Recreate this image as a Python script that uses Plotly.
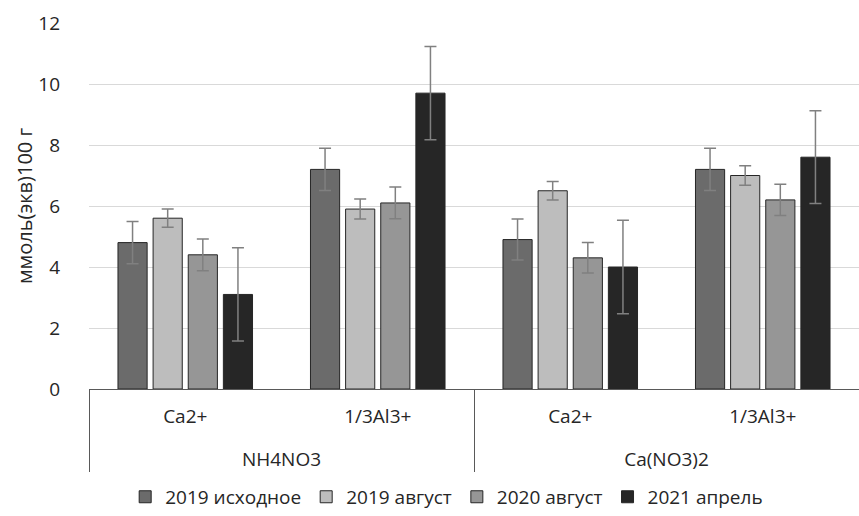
import plotly.graph_objects as go

groups = ["NH4NO3", "NH4NO3", "Ca(NO3)2", "Ca(NO3)2"]
ions = ["Ca2+", "1/3Al3+", "Ca2+", "1/3Al3+"]

series_names = ["2019 исходное", "2019 август", "2020 август", "2021 апрель"]
v2019_init = [4.8, 7.2, 4.9, 7.2]
v2019_aug = [5.6, 5.9, 6.5, 7.0]
v2020_aug = [4.4, 6.1, 4.3, 6.2]
v2021_apr = [3.1, 9.7, 4.0, 7.6]

e2019_init = [0.69, 0.69, 0.67, 0.69]
e2019_aug = [0.3, 0.33, 0.3, 0.32]
e2020_aug = [0.52, 0.52, 0.5, 0.51]
e2021_apr = [1.53, 1.53, 1.53, 1.52]

colors = ["#6b6b6b", "#bdbdbd", "#969696", "#262626"]

values = [v2019_init, v2019_aug, v2020_aug, v2021_apr]
errors = [e2019_init, e2019_aug, e2020_aug, e2021_apr]

FONT = "Open Sans"
TXT = "#262626"

# group labels shifted one line lower, as in the reference
group_labels = ["<br>" + g for g in groups]

fig = go.Figure()
for name, vals, errs, col in zip(series_names, values, errors, colors):
    fig.add_trace(go.Bar(
        x=[group_labels, ions],
        y=vals,
        name=name,
        marker=dict(color=col, line=dict(color="#262626", width=1)),
        error_y=dict(type="data", array=errs, visible=True,
                     color="#808080", thickness=1.5, width=6),
    ))

fig.update_layout(
    width=859, height=516,
    margin=dict(l=89, r=0, t=23, b=127),
    paper_bgcolor="white", plot_bgcolor="white",
    barmode="group", bargap=0.27, bargroupgap=0.17,
    font=dict(family=FONT, size=19, color=TXT),
    showlegend=True,
    legend=dict(orientation="h", xref="container", yref="container",
                x=0.52, xanchor="center", y=0.037, yanchor="middle",
                font=dict(family=FONT, size=19, color=TXT),
                itemwidth=30, traceorder="normal"),
    xaxis=dict(
        type="multicategory",
        showline=True, linecolor="#595959", linewidth=1,
        showdividers=True, dividercolor="#595959", dividerwidth=1,
        ticks="", ticklabelstandoff=10,
        tickfont=dict(family=FONT, size=19, color=TXT),
        automargin=False,
    ),
    yaxis=dict(
        range=[0, 12], dtick=2,
        showgrid=True, gridcolor="#d9d9d9", gridwidth=1,
        zeroline=False, showline=False,
        ticks="", ticklabelstandoff=28,
        tickfont=dict(family=FONT, size=19, color=TXT),
        title=dict(text="ммоль(экв)100 г", font=dict(family=FONT, size=20, color=TXT),
                   standoff=0),
        automargin=False,
    ),
)

fig.write_html("out.html")
